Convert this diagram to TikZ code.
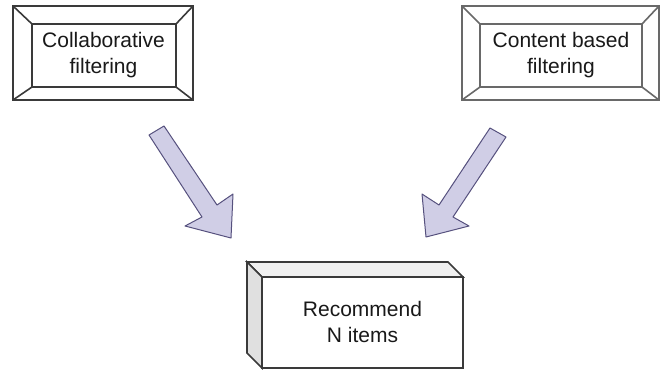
\documentclass[tikz,border=0pt]{standalone}
\usepackage{fontspec}
\setmainfont{Liberation Sans}
\begin{document}
\begin{tikzpicture}[x=1pt,y=-1pt,
  bevel/.style={line width=1.6pt,line join=miter},
  lbl/.style={align=center,inner sep=0pt,font=\fontsize{21}{25.7}\selectfont,text=black!90},
  bigarrow/.style={fill=arrowfill,draw=arrowline,line width=1pt,line join=round}]
\definecolor{arrowfill}{RGB}{208,206,230}
\definecolor{arrowline}{RGB}{86,81,126}
\definecolor{leftline}{RGB}{58,58,58}
\definecolor{rightline}{RGB}{105,105,105}
\definecolor{topface}{RGB}{240,240,240}
\definecolor{sideface}{RGB}{224,224,224}
\useasboundingbox (0,0) rectangle (668,372);
% left bevel box
\draw[bevel,draw=leftline,fill=white] (13,6) rectangle (193,100);
\draw[bevel,draw=leftline] (32,24) rectangle (176,87);
\draw[bevel,draw=leftline] (13,6) -- (32,24) (193,6) -- (176,24) (13,100) -- (32,87) (193,100) -- (176,87);
\node[lbl] (collab) at (103.5,55) {Collaborative\\filtering};
% right bevel box
\draw[bevel,draw=rightline,fill=white] (462,6) rectangle (659,100);
\draw[bevel,draw=rightline] (480,24) rectangle (642,87);
\draw[bevel,draw=rightline] (462,6) -- (480,24) (659,6) -- (642,24) (462,100) -- (480,87) (659,100) -- (642,87);
\node[lbl] (content) at (561,55) {Content based\\filtering};
% bottom cube
\draw[bevel,draw=leftline,fill=topface] (247,262) -- (448,262) -- (463,277) -- (262,277) -- cycle;
\draw[bevel,draw=leftline,fill=sideface] (247,262) -- (262,277) -- (262,368) -- (247,353) -- cycle;
\draw[bevel,draw=leftline,fill=white] (262,277) rectangle (463,368);
\node[lbl] (rec) at (362.5,322) {Recommend\\N items};
% arrows
\coordinate (la1) at (149,135); \coordinate (la2) at (164,126);
\coordinate (la3) at (217,205); \coordinate (la4) at (233,194);
\coordinate (latip) at (231,238); \coordinate (la5) at (185,226);
\coordinate (la6) at (202,217);
\draw[bigarrow] (la1) -- (la2) -- (la3) -- (la4) -- (latip) -- (la5) -- (la6) -- cycle;
\coordinate (ra1) at (490,128); \coordinate (ra2) at (506,137);
\coordinate (ra3) at (453,217); \coordinate (ra4) at (469,226);
\coordinate (ratip) at (426,237); \coordinate (ra5) at (422,194);
\coordinate (ra6) at (439,205);
\draw[bigarrow] (ra1) -- (ra2) -- (ra3) -- (ra4) -- (ratip) -- (ra5) -- (ra6) -- cycle;
\end{tikzpicture}
\end{document}
